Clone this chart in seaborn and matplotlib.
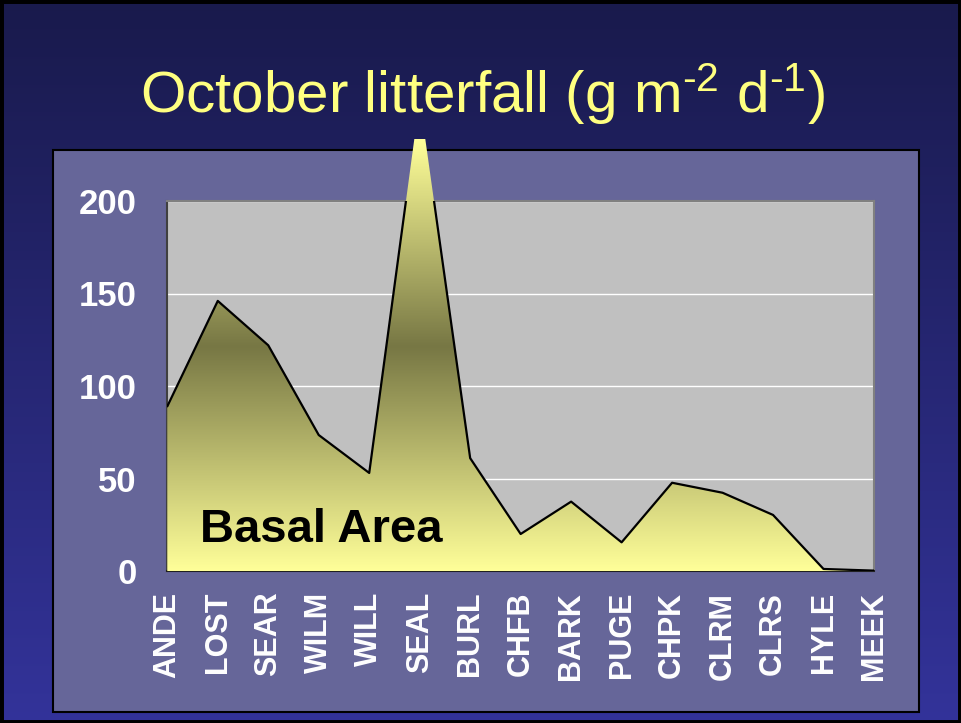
import numpy as np
import pandas as pd
import matplotlib
matplotlib.use("Agg")
import matplotlib.pyplot as plt
from matplotlib.colors import LinearSegmentedColormap
from matplotlib.patches import Rectangle
import seaborn as sns

# data
sites = ["ANDE", "LOST", "SEAR", "WILM", "WILL", "SEAL", "BURL", "CHFB",
         "BARK", "PUGE", "CHPK", "CLRM", "CLRS", "HYLE", "MEEK"]
litterfall = [89, 146, 122, 73.5, 53, 255, 61, 20, 37.5, 15.5, 47.7, 42.3, 30.3, 1.1, 0.2]
y_ticks = [0, 50, 100, 150, 200]
title_text = r"October litterfall (g m$^{\text{-}2}$ d$^{\text{-}1}$)"
note_text = "Basal Area"

sns.set_style("white")
plt.rcParams["font.family"] = ["Liberation Sans", "DejaVu Sans"]
plt.rcParams["mathtext.fontset"] = "custom"
plt.rcParams["mathtext.rm"] = "Liberation Sans"
plt.rcParams["mathtext.it"] = "Liberation Sans:italic"
plt.rcParams["mathtext.bf"] = "Liberation Sans:bold"
plt.rcParams["mathtext.default"] = "regular"

df = pd.DataFrame({"site": sites, "value": litterfall, "pos": np.arange(len(sites))})

fig = plt.figure(figsize=(9.61, 7.23), dpi=100)

# slide background gradient
bg = fig.add_axes([0, 0, 1, 1], zorder=-10)
bg_cmap = LinearSegmentedColormap.from_list("bg", ["#191a4c", "#33339a"])
bg.imshow(np.linspace(0, 1, 256).reshape(-1, 1), cmap=bg_cmap, aspect="auto", extent=[0, 1, 0, 1])
bg.axis("off")

# chart panel
W, H = 961, 723
fig.add_artist(Rectangle((53 / W, 1 - 712 / H), (919 - 53) / W, (712 - 150) / H,
                         transform=fig.transFigure, facecolor="#666699",
                         edgecolor="black", lw=1.5, zorder=-5))
fig.add_artist(Rectangle((0, 0), 1, 1, transform=fig.transFigure, fill=False,
                         edgecolor="black", lw=5, zorder=20))

ax = fig.add_axes([167.3 / W, 1 - 571 / H, (874 - 167.3) / W, (571 - 201) / H])
ax.set_facecolor("#c0c0c0")

# area with gradient fill (fill spills above the plot like the original)
fill = ax.fill_between(df["pos"], df["value"], 0, facecolor="none", edgecolor="none")
area_path = fill.get_paths()[0]
grad_top = 233.5
grad_cmap = LinearSegmentedColormap.from_list(
    "area", [(0, "#ffff99"), (0.52, "#777744"), (1, "#ffff99")])
im = ax.imshow(np.linspace(0, 1, 256).reshape(-1, 1), cmap=grad_cmap, aspect="auto",
               extent=[0, len(sites) - 1, 0, grad_top], origin="lower", zorder=2.7)
im.set_clip_box(fig.bbox)
im.set_clip_path(area_path, transform=ax.transData)

sns.lineplot(data=df, x="pos", y="value", color="black", lw=1.6, ax=ax, zorder=3)

ax.set_xlim(0, len(sites) - 1)
ax.set_ylim(0, 200)
ax.set_xlabel("")
ax.set_ylabel("")

ax.set_yticks(y_ticks)
ax.set_yticklabels([str(t) for t in y_ticks], fontsize=25, fontweight="bold", color="white")
ax.set_xticks(df["pos"])
ax.set_xticklabels(sites, rotation=90, fontsize=22, fontweight="bold", color="white")
ax.tick_params(axis="x", length=0, pad=15)
ax.tick_params(axis="y", length=0, pad=22)

ax.yaxis.grid(True, color="white", lw=1)
ax.xaxis.grid(False)
ax.set_axisbelow(True)

ax.spines["left"].set_color("#404040")
ax.spines["top"].set_color("#808080")
ax.spines["right"].set_color("#808080")
ax.spines["bottom"].set_color("#202020")
for s in ax.spines.values():
    s.set_linewidth(1.5)
    s.set_visible(True)

ax.text(0.65, 15.8, note_text, fontsize=34, fontweight="bold", color="black",
        va="baseline", zorder=4)

fig.text(0.502, 1 - 113 / H, title_text, color="#ffff80", fontsize=42,
         ha="center", va="baseline")

fig.savefig("out.png", dpi=100)
